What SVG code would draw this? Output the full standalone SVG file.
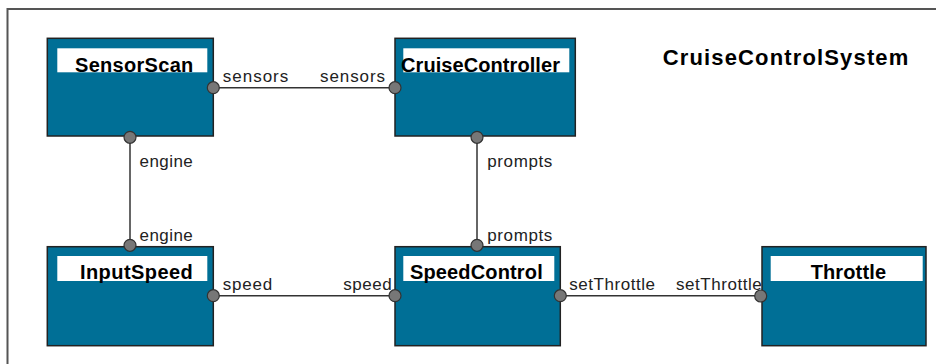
<svg xmlns="http://www.w3.org/2000/svg" width="936" height="364" viewBox="0 0 936 364">
<style>
.frame{fill:none;stroke:#555;stroke-width:2}
.box{fill:#006f96;stroke:#222;stroke-width:1.5}
.hdr{fill:#fff}
.nl{font-family:"Liberation Sans",Arial,sans-serif;font-weight:bold;font-size:20px;fill:#000}
.title{font-family:"Liberation Sans",Arial,sans-serif;font-weight:bold;font-size:22px;fill:#000}
.pl{font-family:"Liberation Sans",Arial,sans-serif;font-size:17px;fill:#222}
.port{fill:#777;stroke:#333;stroke-width:1.2}
.conn{stroke:#333;stroke-width:1.5;fill:none}
</style>
<rect width="936" height="364" fill="#fff"/>
<path class="frame" d="M7.5,370 V9 H945"/>
<text class="title" x="662.7" y="65" textLength="245.6" lengthAdjust="spacing">CruiseControlSystem</text>
<g id="connectors">
<line class="conn" x1="213.3" y1="87.7" x2="395" y2="87.7"/>
<line class="conn" x1="130" y1="137" x2="130" y2="245.5"/>
<line class="conn" x1="477" y1="137" x2="477" y2="245.5"/>
<line class="conn" x1="213.3" y1="295.7" x2="395" y2="295.7"/>
<line class="conn" x1="560.3" y1="295.7" x2="760.7" y2="295.7"/>
<text class="pl" x="222.7" y="81.7" textLength="65.6" lengthAdjust="spacing">sensors</text>
<text class="pl" x="320" y="81.7" textLength="65" lengthAdjust="spacing">sensors</text>
<text class="pl" x="139.5" y="166.5" textLength="53.3" lengthAdjust="spacing">engine</text>
<text class="pl" x="139.5" y="240.5" textLength="53.3" lengthAdjust="spacing">engine</text>
<text class="pl" x="487.3" y="166.5" textLength="65" lengthAdjust="spacing">prompts</text>
<text class="pl" x="487.3" y="240.5" textLength="65" lengthAdjust="spacing">prompts</text>
<text class="pl" x="222.7" y="290" textLength="49.6" lengthAdjust="spacing">speed</text>
<text class="pl" x="343.3" y="290" textLength="48.4" lengthAdjust="spacing">speed</text>
<text class="pl" x="569.3" y="290" textLength="85.7" lengthAdjust="spacing">setThrottle</text>
<text class="pl" x="676" y="290" textLength="85.7" lengthAdjust="spacing">setThrottle</text>
</g>
<g id="SensorScan">
<rect class="box" x="47.3" y="38.3" width="166" height="97.7"/>
<rect class="hdr" x="57.3" y="48.3" width="150" height="24"/>
<text class="nl" x="75" y="71.5" textLength="118.3" lengthAdjust="spacing">SensorScan</text>
<circle class="port" cx="213.3" cy="87.7" r="6"/>
<circle class="port" cx="130" cy="137.3" r="6"/>
</g>
<g id="CruiseController">
<rect class="box" x="395" y="38.3" width="180.3" height="97.7"/>
<rect class="hdr" x="403.3" y="48.3" width="166" height="24"/>
<text class="nl" x="401" y="71.5" textLength="159" lengthAdjust="spacing">CruiseController</text>
<circle class="port" cx="395" cy="87.7" r="6"/>
<circle class="port" cx="477" cy="137.3" r="6"/>
</g>
<g id="InputSpeed">
<rect class="box" x="47.3" y="246.7" width="166" height="99"/>
<rect class="hdr" x="57.3" y="256" width="150" height="25"/>
<text class="nl" x="80" y="279.3" textLength="112.7" lengthAdjust="spacing">InputSpeed</text>
<circle class="port" cx="130" cy="245.3" r="6"/>
<circle class="port" cx="213.3" cy="295.7" r="6"/>
</g>
<g id="SpeedControl">
<rect class="box" x="395" y="246.7" width="165.3" height="99"/>
<rect class="hdr" x="403.3" y="256" width="151" height="25"/>
<text class="nl" x="410" y="279.3" textLength="132.7" lengthAdjust="spacing">SpeedControl</text>
<circle class="port" cx="477" cy="245.3" r="6"/>
<circle class="port" cx="395" cy="295.7" r="6"/>
<circle class="port" cx="560.3" cy="295.7" r="6"/>
</g>
<g id="Throttle">
<rect class="box" x="762" y="246.7" width="164" height="99"/>
<rect class="hdr" x="770.7" y="256" width="152" height="25"/>
<text class="nl" x="810.7" y="279.3" textLength="75.3" lengthAdjust="spacing">Throttle</text>
<circle class="port" cx="760.7" cy="296" r="6"/>
</g>
</svg>
